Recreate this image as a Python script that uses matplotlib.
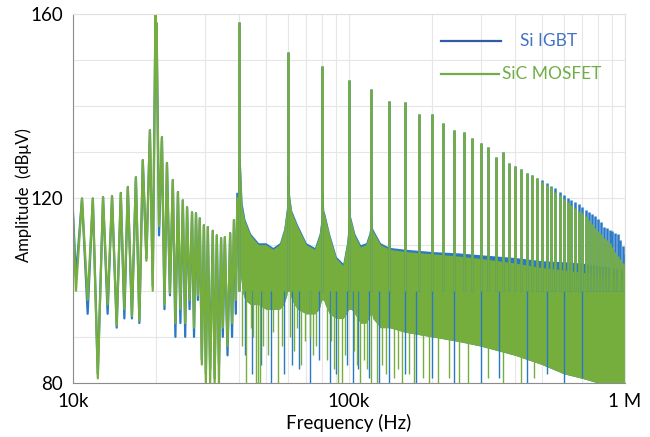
import numpy as np
import matplotlib.pyplot as plt
from matplotlib.ticker import FixedLocator, NullFormatter

# sideband lobes 10k-40k (kHz, dBuV)
lobe_f = [10.0, 10.25, 10.78, 11.3, 11.8, 12.3, 12.85, 13.35, 13.85, 14.4,
          14.9, 15.35, 15.8, 16.35, 16.9, 17.4, 17.9, 18.45, 19.0, 19.45,
          19.9, 20.0, 20.08, 20.5, 21.0, 21.45, 21.9, 22.45, 23.0, 23.5,
          24.0, 24.5, 25.0, 25.5, 25.9, 26.45, 27.0, 27.45, 27.9, 28.35,
          28.8, 29.3, 29.8, 30.3, 30.8, 31.4, 32.1, 32.6, 33.2, 33.8,
          34.4, 34.9, 35.5, 36.3, 37.1, 37.7, 38.3, 38.9, 39.4]
lobe_sic = [116, 100, 120, 98, 120, 81, 120.3, 97, 120.5, 92.5,
            121.2, 96, 122.5, 94.5, 124.6, 93.5, 128.3, 106.5, 134.8, 100,
            160, 144, 158, 114, 133.3, 97, 127.7, 99.5, 124, 93,
            121.4, 96, 119.6, 93, 118.1, 98, 117, 92, 116.8, 99,
            115.7, 84, 114.2, 80, 113.8, 80, 113, 80, 112, 80,
            111.4, 92, 111.6, 88, 112.5, 93, 115.3, 98, 120]
lobe_si = [117, 103, 120, 95, 120, 82, 120.3, 95, 120.5, 92,
           121.2, 94, 122.5, 94, 124.6, 93, 128.3, 107, 134.8, 101,
           160, 144, 158, 112, 133.3, 96, 127.7, 99, 124, 90,
           121.4, 93, 119.6, 90, 118.1, 96, 117, 90, 116.8, 98,
           115.7, 85, 114.2, 82, 113.8, 83, 113, 81, 112, 84,
           111.4, 90, 111.6, 86, 112.5, 90, 115.3, 95, 121]

# dense part 40k-1M: envelope of the noise band (with skirts at low harmonics)
band_f = [39.4, 39.8, 40.4, 41, 42, 44, 47, 50, 53, 56,
          58, 59.5, 59.8, 60.4, 61, 62, 65, 70, 75, 78,
          79.5, 79.8, 80.5, 81, 82, 85, 90, 95, 98, 99.5,
          99.8, 100.5, 101, 102, 105, 110, 115, 118, 119.5, 119.8,
          120.6, 121, 122, 130, 140, 160, 200, 250, 300, 400,
          500, 600, 700, 800, 900, 1000]
band_top_sic = [120, 130, 128, 118, 115, 112, 110, 110, 109, 110,
                113, 118, 126, 124, 120, 117, 114, 110, 109, 112,
                116, 122, 121, 117, 116, 112, 107, 105.5, 110, 114,
                120, 119, 116, 115, 112, 109.5, 110, 112, 113.8, 118,
                117, 114, 113, 110, 109, 108.5, 108, 107.5, 107, 106,
                105, 104.5, 104, 103.5, 103, 102.5]
band_top_si = [120.5, 130, 128, 119, 115.5, 112.4, 110.4, 110.4, 109.4, 110.4,
               113.4, 118.4, 126, 124, 120.4, 117.4, 114.4, 110.4, 109.4, 112.4,
               116.4, 122, 121, 117.4, 116.4, 112.4, 107.4, 106, 110.4, 114.4,
               120, 119, 116.4, 115.4, 112.4, 110, 110.4, 112.4, 114.2, 118,
               117, 114.4, 113.4, 110.4, 109.4, 109, 108.5, 108.2, 107.8, 107.2,
               106.5, 106.3, 106, 105.5, 105, 104.5]
band_bot = [105, 104, 104, 100, 98, 97, 97, 96, 96, 96,
            97, 99, 100, 100, 100, 98, 96, 95, 95, 96,
            98, 98, 98, 98, 97, 95, 94, 94, 95, 96,
            96, 96, 96, 96, 95, 93, 93, 94, 95, 95,
            95, 95, 94, 92, 92, 91, 90, 89, 88, 86,
            84, 82, 81, 80, 80, 80]

# switching harmonics (20 kHz grid), peak levels
harm_f = [40, 60, 80, 100, 120, 140, 160, 180, 200, 220,
          240, 260, 280, 300, 320, 340, 360, 380, 400, 420,
          440, 460, 480, 500, 520, 540, 560, 580, 600, 620,
          640, 660, 680, 700, 720, 740, 760, 780, 800, 820,
          840, 860, 880, 900, 920, 940, 960, 980, 1000]
harm_sic = [158.3, 151.8, 148.7, 145.7, 143.7, 141.1, 140.9, 138.3, 138.3, 136.4,
            134.8, 134.4, 133.1, 132, 131.2, 129, 130, 127.7, 127, 126.4,
            125.5, 125, 124.5, 123.6, 123, 122.4, 121.5, 120.8, 119.8, 119.2,
            118.5, 117.9, 117.3, 116.8, 116.2, 115.4, 114.5, 113.7, 113, 112.3,
            111.5, 111, 110.3, 109.4, 108.5, 107.6, 106.8, 106, 105]
harm_si = [158.3, 151.8, 148.7, 145.7, 143.7, 141.1, 140.9, 138.3, 138.3, 136.4,
           134.8, 134.4, 133.1, 132, 131.2, 129, 130, 127.7, 127, 126.4,
           125.5, 125, 124.5, 124, 123.3, 122.8, 122.2, 121.5, 120.8, 120.2,
           119.6, 119.2, 118.7, 118.2, 117.6, 117.1, 116.6, 116.2, 115.6, 114.8,
           113.9, 113.5, 113.2, 112.9, 112.6, 112.2, 111, 109.6, 108]

# deep dips reaching below the band
dip_f_sic = [41, 42.5, 44, 45, 46, 46.7, 47.5, 49, 51, 53, 55.4, 57, 61, 63, 65,
             67, 69, 72, 74, 76, 83, 86, 88, 91, 94, 97, 104, 107, 110, 113,
             116, 120.5, 126, 132, 136, 145, 150, 155, 165, 172, 185, 195, 210,
             230, 250, 270, 320, 360, 420, 470]
dip_sic = [88, 80, 92, 90, 80, 80, 80, 88, 86, 91, 80, 88, 90, 87, 92,
           84, 89, 90, 86, 88, 85, 89, 83, 80, 80, 86, 87, 84, 80, 85,
           83, 80, 80, 84, 82, 81, 83, 80, 82, 80, 81, 80, 80,
           81, 80, 80, 81, 80, 80, 81]
dip_f_si = [42, 44.5, 48, 52, 58, 62, 66, 72, 78, 85, 90, 98, 103, 108, 118,
            128, 140, 160, 175, 200, 240, 300, 350, 440, 520, 600, 700]
dip_si = [86, 82, 84, 80, 82, 84, 83, 80, 85, 80, 82, 84, 80, 83, 81,
          80, 80, 82, 80, 81, 80, 80, 81, 80, 82, 80, 81]

blue = '#2a79c6'
green = '#76ae3e'

fig = plt.figure(figsize=(6.5, 4.37), dpi=100)
ax = fig.add_axes([0.1123, 0.1236, 0.8492, 0.8444])

for f_l, v_l, top, hv, dfq, dv, col in [
        (lobe_f, lobe_si, band_top_si, harm_si, dip_f_si, dip_si, blue),
        (lobe_f, lobe_sic, band_top_sic, harm_sic, dip_f_sic, dip_sic, green)]:
    hz = np.array(f_l) * 1e3
    ax.plot(hz, v_l, color=col, lw=1.6, solid_joinstyle='round')
    ax.fill_between(np.array(band_f) * 1e3, band_bot, top, color=col, lw=0)
    ax.vlines(np.array(harm_f) * 1e3, 100, hv, color=col, lw=1.8)
    ax.vlines(np.array(dfq) * 1e3, dv, 100, color=col, lw=1.0)

ax.set_xscale('log')
ax.set_xlim(1e4, 1e6)
ax.set_ylim(80, 160)

ax.xaxis.set_major_locator(FixedLocator([1e4, 1e5, 1e6]))
ax.set_xticklabels(['10k', '100k', '1 M'])
minor_x = [k * 10 ** e for e in (4, 5) for k in range(2, 10)]
ax.xaxis.set_minor_locator(FixedLocator(minor_x))
ax.xaxis.set_minor_formatter(NullFormatter())
ax.yaxis.set_major_locator(FixedLocator([80, 120, 160]))
ax.yaxis.set_minor_locator(FixedLocator([90, 100, 110, 130, 140, 150]))

ax.grid(True, which='both', color='#e6e6e6', lw=0.8)
ax.set_axisbelow(True)
ax.tick_params(which='both', length=0, labelsize=13.5, pad=7)
for tl in ax.get_xticklabels() + ax.get_yticklabels():
    tl.set_family('Lato')
for s in ['left', 'bottom']:
    ax.spines[s].set_color('#8c8c8c')
for s in ['top', 'right']:
    ax.spines[s].set_color('#e0e0e0')

ax.set_xlabel('Frequency (Hz)', fontsize=13.5, family='Lato')
ax.xaxis.set_label_coords(0.5, -0.085)
ax.set_ylabel('Amplitude  (dB\u03bcV)', fontsize=12, family='Lato')
ax.yaxis.set_label_coords(-0.075, 0.51)

# legend drawn by hand
ax.plot([0.667, 0.775], [0.928, 0.928], transform=ax.transAxes, color='#2f5ba8', lw=1.6)
ax.text(0.81, 0.928, 'Si IGBT', transform=ax.transAxes, color='#4472c4',
        fontsize=12.5, family='Lato', va='center')
ax.plot([0.667, 0.772], [0.838, 0.838], transform=ax.transAxes, color='#70ad47', lw=1.6)
ax.text(0.777, 0.838, 'SiC MOSFET', transform=ax.transAxes, color='#70ad47',
        fontsize=12.5, family='Lato', va='center')

fig.savefig('out.png', dpi=100)
